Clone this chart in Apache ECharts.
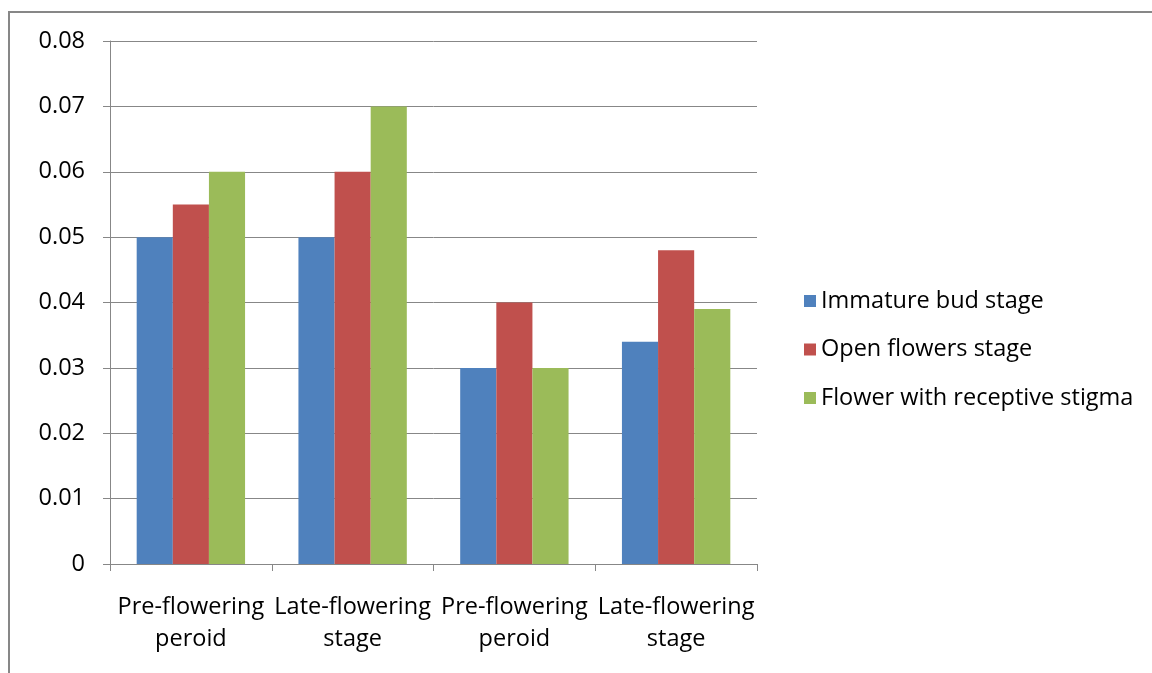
<!DOCTYPE html>
<html>
<head>
<meta charset="utf-8">
<script src="https://cdn.jsdelivr.net/npm/echarts@6/dist/echarts.min.js"></script>
<style>
  html, body { margin: 0; padding: 0; background: #fff; }
  #chart { width: 1152px; height: 673px; }
</style>
</head>
<body>
<div id="chart"></div>
<script>
// categories along x (two periods repeated, as in the source figure)
const categories = ['Pre-flowering\nperoid', 'Late-flowering\nstage', 'Pre-flowering\nperoid', 'Late-flowering\nstage'];
const seriesNames = ['Immature bud stage', 'Open flowers stage', 'Flower with receptive stigma'];
const immatureBud = [0.05, 0.05, 0.03, 0.034];
const openFlowers = [0.055, 0.06, 0.04, 0.048];
const receptiveStigma = [0.06, 0.07, 0.03, 0.039];
const colors = ['#4F81BD', '#C0504D', '#9BBB59'];

const FONT = 'Open Sans';
const FS = 23.5;
const chart = echarts.init(document.getElementById('chart'));

const mkBar = (name, data, i) => ({
    name: name,
    type: 'bar',
    data: data,
    barGap: 0,
    barCategoryGap: '33%',
    itemStyle: { color: colors[i] }
});

const option = {
    animation: false,
    textStyle: { fontFamily: FONT },
    // outer frame of the pasted chart
    graphic: [{
        type: 'rect',
        shape: { x: 9, y: 12, width: 1160, height: 700 },
        style: { fill: 'none', stroke: '#878787', lineWidth: 2 }
    }],
    grid: { left: 110, top: 41, right: 395, bottom: 109 },
    legend: {
        orient: 'vertical',
        left: 799,
        top: 284,
        itemWidth: 12,
        itemHeight: 12,
        itemGap: 24.5,
        icon: 'rect',
        textStyle: { fontSize: FS, color: '#000', fontFamily: FONT },
        data: seriesNames
    },
    xAxis: {
        type: 'category',
        data: categories,
        axisLine: { lineStyle: { color: '#878787', width: 1 } },
        axisTick: { show: true, length: 7, lineStyle: { color: '#878787' } },
        axisLabel: { color: '#000', fontSize: FS, lineHeight: 32, margin: 27, fontFamily: FONT, interval: 0 }
    },
    yAxis: {
        type: 'value',
        min: 0,
        max: 0.08,
        interval: 0.01,
        axisLine: { show: true, lineStyle: { color: '#878787' } },
        axisTick: { show: true, length: 7, lineStyle: { color: '#878787' } },
        splitLine: { lineStyle: { color: '#878787', width: 1 } },
        axisLabel: {
            color: '#000', fontSize: FS, margin: 25, fontFamily: FONT,
            formatter: v => (v === 0 ? '0' : v.toFixed(2))
        }
    },
    series: [
        mkBar(seriesNames[0], immatureBud, 0),
        mkBar(seriesNames[1], openFlowers, 1),
        mkBar(seriesNames[2], receptiveStigma, 2)
    ]
};

chart.setOption(option);
</script>
</body>
</html>
